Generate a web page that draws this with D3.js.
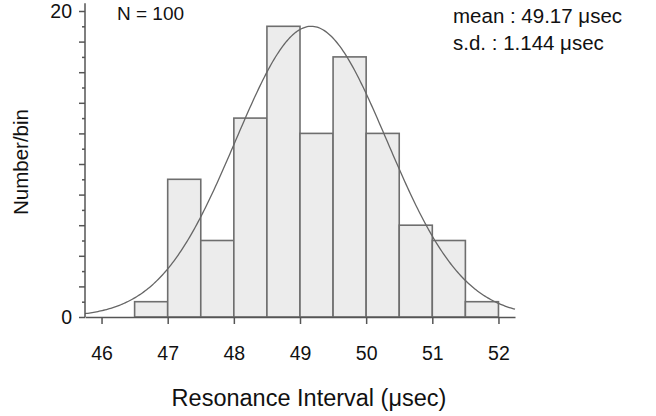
<!DOCTYPE html>
<html>
<head>
<meta charset="utf-8">
<script src="https://cdn.jsdelivr.net/npm/d3@7"></script>
<style>
  html, body { margin: 0; padding: 0; background: #fff; }
  svg { display: block; }
  text { font-family: "Liberation Sans", Arial, Helvetica, sans-serif; fill: #111; }
</style>
</head>
<body>
<svg id="chart" width="656" height="416"></svg>
<script>
// ---- data ----
const binStarts = [46.5, 47, 47.5, 48, 48.5, 49, 49.5, 50, 50.5, 51, 51.5];
const binWidth = 0.5;
const counts    = [1, 9, 5, 13, 19, 12, 17, 12, 6, 5, 1];
const xTickValues = [46, 47, 48, 49, 50, 51, 52];
const yTickValues = [0, 2, 4, 6, 8, 10, 12, 14, 16, 18, 20];
const yMinorTicks = [1, 3, 5, 7, 9, 11, 13, 15, 17, 19];
const yLabelled = [0, 20];
const fitMean = 49.17;
const fitSD = 1.144;
const fitPeak = 19;
const nText = "N = 100";
const statLines = ["mean : 49.17 \u03BCsec", "s.d. : 1.144 \u03BCsec"];
const xTitle = "Resonance Interval (\u03BCsec)";
const yTitle = "Number/bin";

// ---- layout ----
const svg = d3.select("#chart");
const x = d3.scaleLinear().domain([45.75, 52.25]).range([85, 515]);
const y = d3.scaleLinear().domain([0, 20]).range([317, 11]);
const axisColor = "#555";

// bars
svg.append("g").selectAll("rect")
  .data(binStarts.map((s, i) => ({ s, c: counts[i] })))
  .join("rect")
  .attr("x", d => x(d.s))
  .attr("width", d => x(d.s + binWidth) - x(d.s))
  .attr("y", d => y(d.c))
  .attr("height", d => y(0) - y(d.c))
  .attr("fill", "#ececec")
  .attr("stroke", "#6e6e6e")
  .attr("stroke-width", 1.6);

// fitted normal curve
const curveX = d3.range(0, 301).map(i => 45.75 + i * (52.25 - 45.75) / 300);
const line = d3.line()
  .x(v => x(v))
  .y(v => y(fitPeak * Math.exp(-((v - fitMean) ** 2) / (2 * fitSD * fitSD))));
svg.append("path")
  .datum(curveX)
  .attr("d", line)
  .attr("fill", "none")
  .attr("stroke", "#666")
  .attr("stroke-width", 1.3);

// x axis
const gx = svg.append("g")
  .attr("transform", `translate(0,${y(0)})`)
  .call(d3.axisBottom(x).tickValues(xTickValues).tickSize(7).tickPadding(22).tickSizeOuter(0).tickFormat(d3.format("d")));
gx.select(".domain").attr("stroke", axisColor).attr("stroke-width", 1.5);
gx.selectAll(".tick line").attr("stroke", axisColor).attr("stroke-width", 1.5);
gx.selectAll(".tick text").style("font-size", "19.5px").attr("fill", "#111");

// y axis (major ticks, labelled at 0 and 20)
const gy = svg.append("g")
  .attr("transform", `translate(${x.range()[0]},0)`)
  .call(d3.axisLeft(y).tickValues(yTickValues).tickSize(6).tickPadding(7).tickSizeOuter(0)
    .tickFormat(d => yLabelled.includes(d) ? d : ""));
gy.select(".domain").remove();
gy.selectAll(".tick line").attr("stroke", axisColor).attr("stroke-width", 1.5);
gy.selectAll(".tick text").style("font-size", "19.5px").attr("fill", "#111");
// minor ticks
const gym = svg.append("g")
  .attr("transform", `translate(${x.range()[0]},0)`)
  .call(d3.axisLeft(y).tickValues(yMinorTicks).tickSize(3).tickFormat(""));
gym.select(".domain").remove();
gym.selectAll(".tick line").attr("stroke", axisColor).attr("stroke-width", 1.5);
// y axis line, extends a bit above 20
svg.append("line")
  .attr("x1", x.range()[0]).attr("x2", x.range()[0])
  .attr("y1", y(0)).attr("y2", y(20.5))
  .attr("stroke", axisColor).attr("stroke-width", 1.5);

// annotations
svg.append("text").attr("x", 117).attr("y", 20).style("font-size", "19px").text(nText);
svg.selectAll(".stat").data(statLines).join("text")
  .attr("class", "stat")
  .attr("x", 453).attr("y", (d, i) => 23 + i * 27)
  .style("font-size", "20.5px")
  .text(d => d);

// axis titles
svg.append("text")
  .attr("x", 309).attr("y", 406)
  .attr("text-anchor", "middle")
  .style("font-size", "23.5px")
  .text(xTitle);
svg.append("text")
  .attr("transform", "translate(28,162) rotate(-90)")
  .attr("text-anchor", "middle")
  .style("font-size", "20.5px")
  .text(yTitle);
</script>
</body>
</html>
